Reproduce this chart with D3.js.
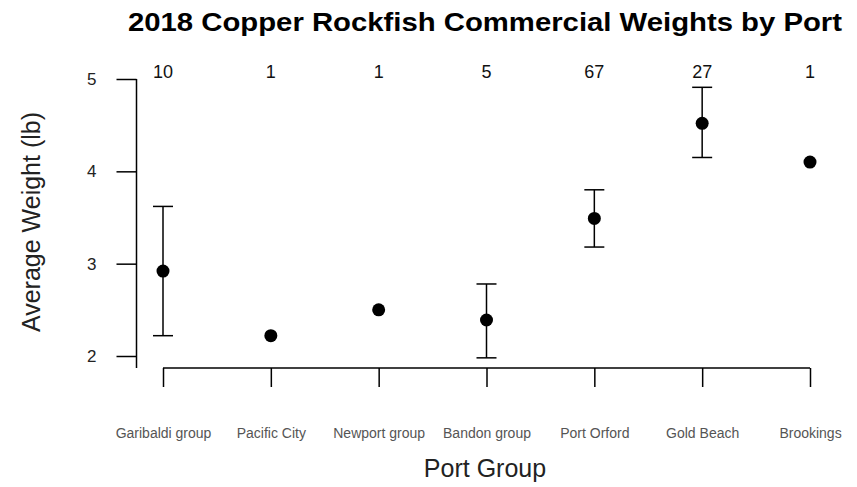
<!DOCTYPE html>
<html><head><meta charset="utf-8">
<script src="https://cdn.jsdelivr.net/npm/d3@7"></script>
<style>body{margin:0;background:#fff}svg{display:block}</style>
</head><body>
<script>
const ports = ["Garibaldi group","Pacific City","Newport group","Bandon group","Port Orford","Gold Beach","Brookings"];
const counts = [10,1,1,5,67,27,1];
const means = [2.92,2.22,2.50,2.39,3.49,4.52,4.10];
const lower = [2.22,null,null,1.98,3.18,4.15,null];
const upper = [3.62,null,null,2.78,3.80,4.91,null];
const yTicks = [2,3,4,5];

const W=857,H=487;
const svg=d3.select("body").append("svg").attr("width",W).attr("height",H);
const font="Liberation Sans, Arial, sans-serif";
const x=d3.scalePoint().domain(ports).range([163,810]);
const y=d3.scaleLinear().domain([2,5]).range([356,79]);
const axisY=368;

// title
svg.append("text").attr("x",485).attr("y",31).attr("text-anchor","middle")
 .attr("font-family",font).attr("font-weight","bold").attr("font-size",26)
 .attr("textLength",714).attr("lengthAdjust","spacingAndGlyphs")
 .text("2018 Copper Rockfish Commercial Weights by Port");

// y axis
const ya=svg.append("g").attr("transform","translate(136.5,0)")
 .call(d3.axisLeft(y).tickValues(yTicks).tickSize(20).tickSizeOuter(0).tickPadding(20).tickFormat(d3.format("d")));
ya.select(".domain").remove();
ya.append("line").attr("x1",0).attr("x2",0).attr("y1",y(5)).attr("y2",axisY).attr("stroke","#000").attr("stroke-width",1.5);
ya.selectAll(".tick line").attr("stroke-width",1.5);
ya.selectAll(".tick text").attr("font-family",font).attr("font-size",17).attr("fill","#222");

// x axis
const xa=svg.append("g").attr("transform",`translate(0,${axisY})`)
 .call(d3.axisBottom(x).tickSize(19).tickSizeOuter(0).tickPadding(41));
xa.select(".domain").remove();
xa.append("line").attr("x1",x(ports[0])).attr("x2",x(ports[ports.length-1])).attr("stroke","#000").attr("stroke-width",1.5);
xa.selectAll(".tick line").attr("stroke-width",1.5);
xa.selectAll(".tick text").attr("font-family",font).attr("font-size",14).attr("fill","#555");

// axis titles
svg.append("text").attr("x",485).attr("y",477).attr("text-anchor","middle")
 .attr("font-family",font).attr("font-size",25).attr("fill","#222").text("Port Group");
svg.append("text").attr("transform","translate(40,222) rotate(-90)").attr("text-anchor","middle")
 .attr("font-family",font).attr("font-size",25).attr("fill","#222").text("Average Weight (lb)");

// counts
svg.append("g").selectAll("text").data(ports).join("text")
 .attr("x",d=>x(d)).attr("y",78).attr("text-anchor","middle")
 .attr("font-family",font).attr("font-size",18).attr("fill","#111").text((d,i)=>counts[i]);

// error bars
const eb=ports.map((p,i)=>({p,lo:lower[i],hi:upper[i]})).filter(d=>d.lo!=null);
const g=svg.append("g").attr("stroke","#000").attr("stroke-width",1.5);
g.selectAll(".v").data(eb).join("line").attr("x1",d=>x(d.p)).attr("x2",d=>x(d.p)).attr("y1",d=>y(d.lo)).attr("y2",d=>y(d.hi));
g.selectAll(".t").data(eb).join("line").attr("x1",d=>x(d.p)-10).attr("x2",d=>x(d.p)+10).attr("y1",d=>y(d.hi)).attr("y2",d=>y(d.hi));
g.selectAll(".b").data(eb).join("line").attr("x1",d=>x(d.p)-10).attr("x2",d=>x(d.p)+10).attr("y1",d=>y(d.lo)).attr("y2",d=>y(d.lo));

// points
svg.append("g").selectAll("circle").data(ports).join("circle")
 .attr("cx",d=>x(d)).attr("cy",(d,i)=>y(means[i])).attr("r",6.5).attr("fill","#000");
</script>
</body></html>
